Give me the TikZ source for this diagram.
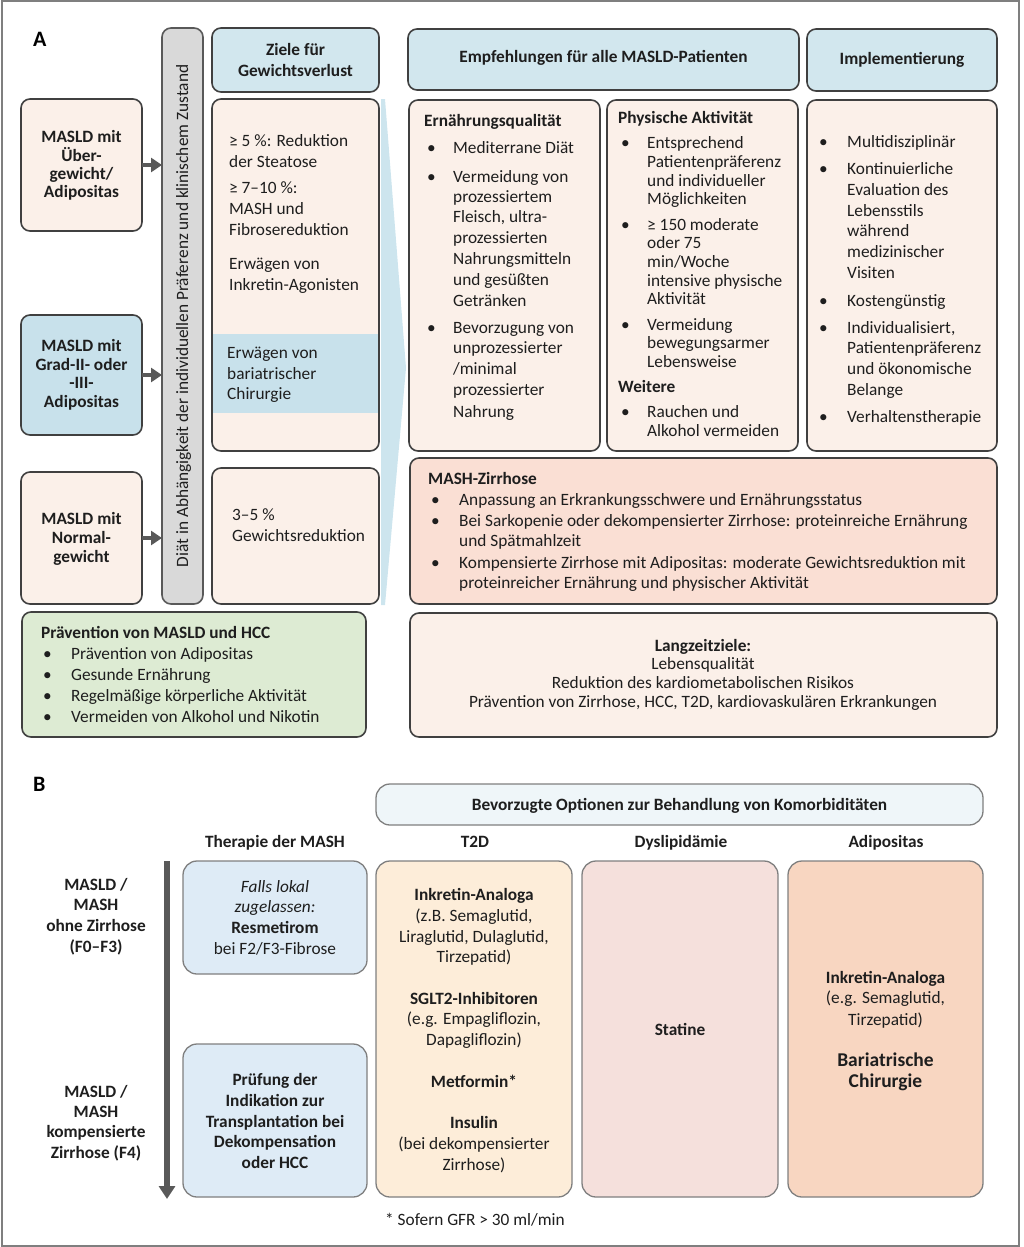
\documentclass[tikz,border=0pt]{standalone}
\usepackage{fontspec}
\setmainfont{Carlito}
\usetikzlibrary{arrows.meta}
\definecolor{tcol}{HTML}{1E1E1E}
\definecolor{peach}{HTML}{FBF0E9}
\definecolor{hblue}{HTML}{D2E7EE}
\definecolor{gblue}{HTML}{C8E1EB}
\definecolor{wblue}{HTML}{CDE5EE}
\definecolor{bargray}{HTML}{D9D9D9}
\definecolor{dgray}{HTML}{404040}
\definecolor{agray}{HTML}{595959}
\definecolor{lgreen}{HTML}{DDEBD3}
\definecolor{salmon}{HTML}{FADFD4}
\definecolor{bhfill}{HTML}{EFF6F9}
\definecolor{bborder}{HTML}{7F7F7F}
\definecolor{mblue}{HTML}{DEEBF6}
\definecolor{t2d}{HTML}{FDEDD9}
\definecolor{dysl}{HTML}{F5E0DC}
\definecolor{adip}{HTML}{F8D6C1}
\newcommand\fs{\fontsize{17.3}{20}\selectfont}
\newcommand\boxat[6]{\node[#6, anchor=north west, minimum width={(#4-#2)*1pt}, minimum height={(#5-#3)*1pt}] (#1) at (#2,#3) {};}
\newcommand\lst[4][txt]{\foreach \myy/\mytext [count=\i] in {#4} {\node[#1] (#2\i) at (#3,\myy) {\mytext};}}
\begin{document}
\begin{tikzpicture}[x=1pt,y=-1pt,
  abox/.style={draw=dgray, line width=1.6pt, rounded corners=9pt, fill=peach, inner sep=0pt, outer sep=0pt},
  hbox/.style={abox, fill=hblue},
  barbox/.style={abox, fill=bargray, draw=agray},
  bbox/.style={draw=bborder, line width=1.3pt, rounded corners=14pt, inner sep=0pt, outer sep=0pt},
  txt/.style={font=\fs, text=tcol, inner sep=0pt, anchor=base west},
  btxt/.style={txt, font=\fs\bfseries},
  ctxt/.style={txt, anchor=base},
  cbtxt/.style={btxt, anchor=base},
  citxt/.style={ctxt, font=\fs\itshape},
  bigtxt/.style={cbtxt, font=\fontsize{19.5}{22}\selectfont\bfseries},
  garrow/.style={draw=agray, line width=4.5pt, -{Triangle[length=11pt,width=14pt]}},
  varrow/.style={draw=agray, line width=6pt, -{Triangle[length=13pt,width=16pt]}},
  letter/.style={txt, font=\fontsize{22}{24}\selectfont\bfseries, text=black}
]
\useasboundingbox (0,0) rectangle (1024,1247);
\draw[bborder, line width=2pt] (1.5,1.5) rectangle (1019,1245.5);

%%%% A
\node[letter] (lA) at (33,47) {A};

% left boxes
\boxat{m1}{21}{99}{142}{231}{abox}
\boxat{m2}{21}{315}{142}{435}{abox, fill=gblue}
\boxat{m3}{21}{472}{142}{604}{abox}
\lst[cbtxt]{mo}{81.5}{142/MASLD mit, 161/Über-, 179/{gewicht/}, 197/Adipositas}
\lst[cbtxt]{mt}{81.5}{351/MASLD mit, 370/Grad-II- oder, 388/-III-, 407/Adipositas}
\lst[cbtxt]{mn}{81.5}{524/MASLD mit, 543/Normal-, 562/gewicht}

% vertical bar
\boxat{bar}{162}{28}{203}{604}{barbox}
\node[txt, anchor=center, rotate=90] (bartxt) at ([xshift=1pt]bar.center) {Diät in Abhängigkeit der individuellen Präferenz und klinischem Zustand};
\draw[garrow] (m1.east) -- (m1.east -| bar.west);
\draw[garrow] (m2.east) -- (m2.east -| bar.west);
\draw[garrow] (m3.east) -- (m3.east -| bar.west);

% column 2
\boxat{zh}{212}{28}{379}{92}{hbox}
\lst[cbtxt]{zht}{295.5}{56/Ziele für, 77/Gewichtsverlust}
\boxat{zb}{212}{99}{379}{451}{abox}
\fill[gblue] (213,334) rectangle (378,413);
\lst{zbt}{229}{146/{≥ 5 \%: Reduktion}, 167/der Steatose, 193/{≥ 7–10 \%:}, 214/MASH und, 235/Fibrosereduktion, 269/Erwägen von, 290/Inkretin-Agonisten}
\lst{zbb}{227}{358/Erwägen von, 379/bariatrischer, 399/Chirurgie}
\boxat{zc}{212}{468}{379}{604}{abox}
\lst{zct}{232}{520/{3–5 \%}, 541/Gewichtsreduktion}

% wedge
\fill[wblue] (381,99) -- (385,99) -- (406,368) -- (385,605) -- (381,605) -- cycle;

% headers
\boxat{he}{408}{29}{799}{90}{hbox}
\node[cbtxt] (het) at (603.5,63) {Empfehlungen für alle MASLD-Patienten};
\boxat{hi}{807}{29}{997}{91}{hbox}
\node[cbtxt] (hit) at (902,65) {Implementierung};

% three columns
\boxat{be}{409}{100}{600}{451}{abox}
\node[btxt] (bet) at (424,126) {Ernährungsqualität};
\lst{beb}{427}{153/•, 182/•, 333/•}
\lst{bel}{453}{153/Mediterrane Diät, 182/Vermeidung von, 202/prozessiertem, 222/{Fleisch, ultra-}, 243/prozessierten, 264/Nahrungsmitteln, 285/und gesüßten, 306/Getränken, 333/Bevorzugung von, 353/unprozessierter, 374/{/minimal}, 395/prozessierter, 417/Nahrung}

\boxat{bp}{607}{100}{798}{451}{abox}
\node[btxt] (bpt) at (618,123) {Physische Aktivität};
\lst{bpb}{621}{148/•, 230/•, 330/•, 417/•}
\lst{bpl}{647}{148/Entsprechend, 167/Patientenpräferenz, 186/und individueller, 204/Möglichkeiten, 230/{≥ 150 moderate}, 248/oder 75, 267/{min/Woche}, 286/intensive physische, 304/Aktivität, 330/Vermeidung, 348/bewegungsarmer, 367/Lebensweise, 417/Rauchen und, 436/Alkohol vermeiden}
\node[btxt] (bpw) at (618,392) {Weitere};

\boxat{bi}{807}{100}{997}{451}{abox}
\lst{bib}{819}{147/•, 174/•, 306/•, 333/•, 422/•}
\lst{bil}{847}{147/Multidisziplinär, 174/Kontinuierliche, 195/Evaluation des, 216/Lebensstils, 236/während, 257/medizinischer, 278/Visiten, 306/Kostengünstig, 333/{Individualisiert,}, 353/Patientenpräferenz, 374/und ökonomische, 395/Belange, 422/Verhaltenstherapie}

% MASH-Zirrhose
\boxat{mz}{410}{458}{997}{604}{abox, fill=salmon}
\node[btxt] (mzt) at (428,484) {MASH-Zirrhose};
\lst{mzb}{431}{505/•, 526/•, 568/•}
\lst{mzl}{459}{505/Anpassung an Erkrankungsschwere und Ernährungsstatus, 526/{Bei Sarkopenie oder dekompensierter Zirrhose: proteinreiche Ernährung}, 546/und Spätmahlzeit, 568/{Kompensierte Zirrhose mit Adipositas: moderate Gewichtsreduktion mit}, 588/proteinreicher Ernährung und physischer Aktivität}

% Langzeitziele
\boxat{lz}{410}{613}{997}{737}{abox}
\node[cbtxt] (lzt) at (703,651) {Langzeitziele:};
\lst[ctxt]{lzl}{703}{669/Lebensqualität, 688/Reduktion des kardiometabolischen Risikos, 707/{Prävention von Zirrhose, HCC, T2D, kardiovaskulären Erkrankungen}}

% Praevention
\boxat{pv}{22}{612}{366}{737}{abox, fill=lgreen}
\node[btxt] (pvt) at (41,638) {Prävention von MASLD und HCC};
\lst{pvb}{43}{659/•, 680/•, 701/•, 722/•}
\lst{pvl}{71}{659/Prävention von Adipositas, 680/Gesunde Ernährung, 701/Regelmäßige körperliche Aktivität, 722/Vermeiden von Alkohol und Nikotin}

%%%% B
\node[letter] (lB) at (33,791) {B};
\boxat{bh}{376}{784}{983}{825}{bbox, fill=bhfill}
\node[cbtxt] (bht) at (679.5,810) {Bevorzugte Optionen zur Behandlung von Komorbiditäten};
\node[cbtxt] (c1) at (275,847) {Therapie der MASH};
\node[cbtxt] (c2) at (475,847) {T2D};
\node[cbtxt] (c3) at (681,847) {Dyslipidämie};
\node[cbtxt] (c4) at (886,847) {Adipositas};

\lst[cbtxt]{r1}{96}{890/{MASLD /}, 910/MASH, 931/ohne Zirrhose, 952/(F0–F3)}
\lst[cbtxt]{r2}{96}{1097/{MASLD /}, 1117/MASH, 1137/kompensierte, 1158/Zirrhose (F4)}

\coordinate (atop) at (167,861);
\coordinate (abot) at (167,1199);
\draw[varrow] (atop) -- (abot);

\boxat{t1}{183}{861}{367}{974}{bbox, fill=mblue}
\node[citxt] (t1a) at (275,892) {Falls lokal};
\node[citxt] (t1b) at (275,912) {zugelassen:};
\node[cbtxt] (t1c) at (275,933) {Resmetirom};
\node[ctxt] (t1d) at (275,954) {bei F2/F3-Fibrose};
\boxat{t2}{183}{1044}{367}{1197}{bbox, fill=mblue}
\lst[cbtxt]{t2l}{275}{1085/Prüfung der, 1106/Indikation zur, 1127/Transplantation bei, 1147/Dekompensation, 1168/oder HCC}

\boxat{d1}{376}{861}{572}{1197}{bbox, fill=t2d}
\lst[cbtxt]{d1b}{474}{900/Inkretin-Analoga, 1004/SGLT2-Inhibitoren, 1087/Metformin*, 1128/Insulin}
\lst[ctxt]{d1l}{474}{921/{(z.B. Semaglutid,}, 942/{Liraglutid, Dulaglutid,}, 962/Tirzepatid), 1024/{(e.g. Empagliflozin,}, 1045/Dapagliflozin), 1149/(bei dekompensierter, 1170/Zirrhose)}

\boxat{d2}{582}{861}{778}{1197}{bbox, fill=dysl}
\node[cbtxt] (d2t) at (680,1035) {Statine};

\boxat{d3}{788}{861}{983}{1197}{bbox, fill=adip}
\node[cbtxt] (d3a) at (885.5,983) {Inkretin-Analoga};
\lst[ctxt]{d3l}{885.5}{1003/{(e.g. Semaglutid,}, 1025/Tirzepatid)}
\lst[bigtxt]{d3c}{885.5}{1066/Bariatrische, 1087/Chirurgie}

\node[txt] (fn) at (385,1225) {* Sofern GFR > 30 ml/min};
\end{tikzpicture}
\end{document}
